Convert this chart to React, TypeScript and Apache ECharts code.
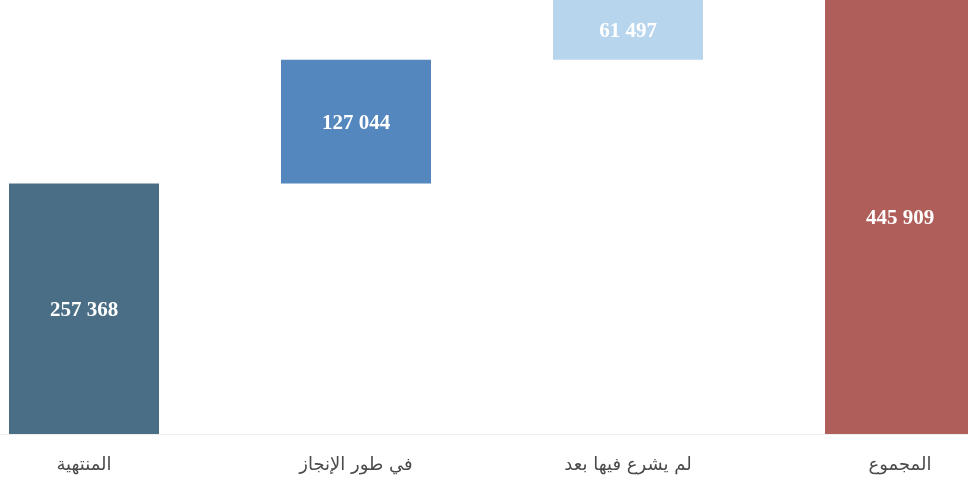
import React, { useEffect, useRef } from "react";
import * as echarts from "echarts";

const categories = ["المنتهية", "في طور الإنجاز", "لم يشرع فيها بعد", "المجموع"];
const values = [257368, 127044, 61497, 445909];
const isTotal = [false, false, false, true];
const colors = ["#4a6e85", "#5587bf", "#b8d5ee", "#b05e5a"];

const bases: number[] = [];
{
  let acc = 0;
  values.forEach((v, i) => {
    if (isTotal[i]) {
      bases.push(0);
    } else {
      bases.push(acc);
      acc += v;
    }
  });
}

const fmt = (n: number) => String(n).replace(/\B(?=(\d{3})+(?!\d))/g, " ");

export default function App() {
  const ref = useRef<HTMLDivElement>(null);
  useEffect(() => {
    if (!ref.current) return;
    const chart = echarts.init(ref.current, undefined, { renderer: "svg" });
    chart.setOption({
      animation: false,
      grid: { left: 0, right: 0, top: 0, bottom: 54, containLabel: false },
      xAxis: {
        type: "category",
        data: categories,
        axisTick: { show: false },
        axisLine: { show: true, lineStyle: { color: "#eeeeee", width: 1 } },
        axisLabel: {
          color: "#4a4a4a",
          fontSize: 18,
          fontWeight: "normal",
          fontFamily: "DejaVu Sans, Liberation Sans, sans-serif",
          margin: 20,
          interval: 0,
        },
      },
      yAxis: {
        type: "value",
        min: 0,
        max: 445909,
        show: false,
        splitLine: { show: false },
      },
      series: [
        {
          type: "bar",
          stack: "w",
          data: bases,
          itemStyle: { color: "transparent" },
          barWidth: 150,
          silent: true,
        },
        {
          type: "bar",
          stack: "w",
          barWidth: 150,
          data: values.map((v, i) => ({ value: v, itemStyle: { color: colors[i] } })),
          label: {
            show: true,
            position: "inside",
            color: "#ffffff",
            fontSize: 21,
            fontWeight: "bold",
            fontFamily: "Liberation Serif, Times New Roman, serif",
            formatter: (p: any) => fmt(p.value),
          },
        },
      ],
    });
    return () => chart.dispose();
  }, []);
  return (
    <div style={{ position: "fixed", left: 0, top: 0, width: 968, height: 488, overflow: "hidden" }}>
      <div ref={ref} style={{ width: 1088, height: 488, position: "absolute", left: -52, top: 0 }} />
    </div>
  );
}
